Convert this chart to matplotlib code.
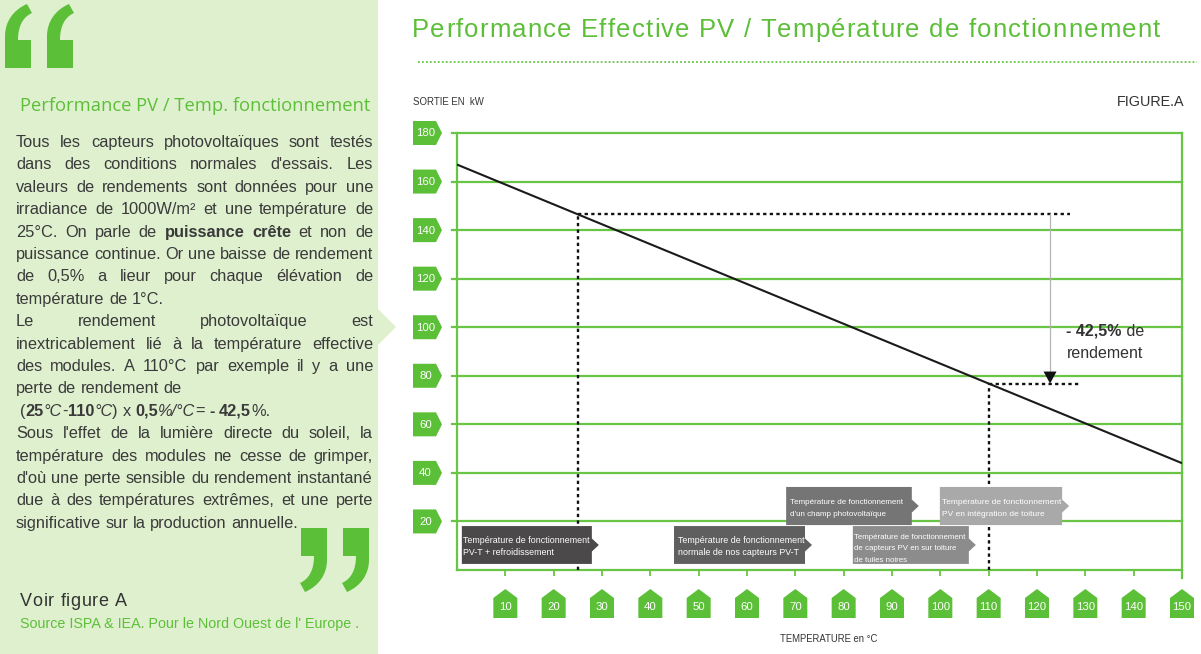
import numpy as np
import matplotlib
matplotlib.use('Agg')
import matplotlib.pyplot as plt
from matplotlib import font_manager
from matplotlib.font_manager import FontProperties
from matplotlib.patches import Polygon, Rectangle, PathPatch
from matplotlib.path import Path

# ---------------- data ----------------
temperature_c = [0, 150]
output_kw = [167, 44]
y_tick_values = [20, 40, 60, 80, 100, 120, 140, 160, 180]
x_tick_values = [10, 20, 30, 40, 50, 60, 70, 80, 90, 100, 110, 120, 130, 140, 150]
ref_temp = 25
hot_temp = 110
title = "Performance Effective PV / Température de fonctionnement"
y_label = "SORTIE EN  kW"
x_label = "TEMPERATURE en °C"
fig_tag = "FIGURE.A"
loss_bold = "- 42,5%"
loss_rest = " de"
loss_line2 = "rendement"
box_labels = [
    "Température de fonctionnement\nPV-T + refroidissement",
    "Température de fonctionnement\nnormale de nos capteurs PV-T",
    "Température de fonctionnement\nd'un champ photovoltaïque",
    "Température de fonctionnement\nde capteurs PV en sur toiture\nde tuiles noires",
    "Température de fonctionnement\nPV en intégration de toiture",
]
panel_heading = "Performance PV / Temp. fonctionnement"
panel_lines = [
    ("Tous les capteurs photovoltaïques sont testés", True),
    ("dans des conditions normales d'essais. Les", True),
    ("valeurs de rendements sont données pour une", True),
    ("irradiance de 1000W/m² et une température de", True),
    ("25°C. On parle de *puissance crête* et non de", True),
    ("puissance continue. Or une baisse de rendement", True),
    ("de 0,5% a lieur pour chaque élévation de", True),
    ("température de 1°C.", False),
    ("Le rendement photovoltaïque est", True),
    ("inextricablement lié à la température effective", True),
    ("des modules. A 110°C par exemple il y a une", True),
    ("perte de rendement de", False),
    ("(*25*_°C_-*110*_°C_) x *0,5*_%/°C_= *- 42,5*%.", False),
    ("Sous l'effet de la lumière directe du soleil, la", True),
    ("température des modules ne cesse de grimper,", True),
    ("d'où une perte sensible du rendement instantané", True),
    ("due à des températures extrêmes, et une perte", True),
    ("significative sur la production annuelle.", False),
]
panel_see = "Voir figure A"
panel_source = "Source ISPA & IEA. Pour le Nord Ouest de l' Europe ."

# ---------------- layout / style ----------------
W, H, DPI = 1201, 654, 100
GREEN = '#5cbf38'
GRID = '#68c545'
TEXT = '#3a3a3a'
PANEL = '#dff0cf'
BOX_COLORS = ['#4b494a', '#5f5f5f', '#757575', '#8c8c8c', '#a9a9a9']
# label boxes in (temperature, kW) space
BOX_SPANS = [((1.0, 27.9), (2.5, 18.1)), ((44.9, 72.0), (2.5, 18.1)),
             ((68.1, 94.1), (18.5, 34.2)), ((81.9, 105.9), (2.5, 18.1)),
             ((99.9, 125.2), (18.5, 34.2))]
BOX_TEXT_W = [125, 125, 112, 111, 118]
BOX_TEXT_DX = [1, 4, 4, 1, 2]

avail = {f.name for f in font_manager.fontManager.ttflist}
SANS = 'Liberation Sans' if 'Liberation Sans' in avail else 'DejaVu Sans'
NARROW = 'Liberation Sans Narrow' if 'Liberation Sans Narrow' in avail else SANS
HUMAN = 'Open Sans' if 'Open Sans' in avail else SANS

fig = plt.figure(figsize=(W / DPI, H / DPI), dpi=DPI)
fig.patch.set_facecolor('white')
renderer = fig.canvas.get_renderer()


def F(x, y):
    return (x / W, 1.0 - y / H)


def fp(family=SANS, size=10, weight='normal', style='normal'):
    return FontProperties(family=family, size=size, weight=weight, style=style)


def tw(s, prop):
    return renderer.get_text_width_height_descent(s, prop, ismath=False)[0]


def adv(s, prop):
    return tw('|' + s + '|', prop) - tw('||', prop)


def put(s, x, y, prop, color, ha='left', va='baseline', z=6):
    fig.text(x / W, 1 - y / H, s, fontproperties=prop, color=color,
             ha=ha, va=va, zorder=z)


def put_spaced(s, x, y, width, prop, color):
    advs = [adv(c, prop) for c in s]
    extra = (width - sum(advs)) / max(len(s) - 1, 1)
    cx = x
    for c, a in zip(s, advs):
        if c != ' ':
            put(c, cx, y, prop, color)
        cx += a + extra


def fit_size(s, width, family, base, weight='normal'):
    return base * width / tw(s, fp(family, base, weight))


def poly(pts, color, z=2):
    fig.add_artist(Polygon([F(*p) for p in pts], closed=True, transform=fig.transFigure,
                           facecolor=color, edgecolor='none', zorder=z))


# ---------------- left panel ----------------
fig.add_artist(Rectangle((0, 0), 378 / W, 1, transform=fig.transFigure,
                         facecolor=PANEL, edgecolor='none', zorder=0))
poly([(377, 308), (396, 327), (377, 346)], PANEL, z=0)


def quote(ox, oy, flip):
    spec = [((0, 64), Path.MOVETO), ((26, 64), Path.LINETO), ((26, 36), Path.LINETO),
            ((13, 36), Path.LINETO), ((13, 22), Path.CURVE4), ((18, 13), Path.CURVE4),
            ((27, 9), Path.CURVE4), ((22, 0), Path.LINETO), ((8, 6), Path.CURVE4),
            ((0, 18), Path.CURVE4), ((0, 32), Path.CURVE4), ((0, 64), Path.LINETO),
            ((0, 64), Path.CLOSEPOLY)]
    verts, codes = [], []
    for (x, y), c in spec:
        if flip:
            x, y = 27 - x, 64 - y
        verts.append(F(ox + x, oy + y))
        codes.append(c)
    fig.add_artist(PathPatch(Path(verts, codes), transform=fig.transFigure,
                             facecolor=GREEN, edgecolor='none', zorder=3))


quote(5, 4, False)
quote(47, 4, False)
quote(300, 528, True)
quote(342, 528, True)

# heading
hs = fit_size(panel_heading, 353, HUMAN, 14)
put(panel_heading, 20, 111, fp(HUMAN, hs), GREEN)


def parse(line):
    toks, bold, ital = [], False, False
    for word in line.split():
        segs, buf = [], ''
        for ch in word:
            if ch in '*_':
                if buf:
                    segs.append((buf, bold, ital))
                    buf = ''
                if ch == '*':
                    bold = not bold
                else:
                    ital = not ital
            else:
                buf += ch
        if buf:
            segs.append((buf, bold, ital))
        toks.append(segs)
    return toks


def bprop(size, b, i):
    return fp(NARROW, size, 'bold' if b else 'normal', 'italic' if i else 'normal')


BODY_X0, BODY_X1 = 16, 373
body_size = 13.0
nat = []
for line, _ in panel_lines:
    toks = parse(line)
    sp = adv(' ', bprop(body_size, False, False))
    w = sum(adv(t, bprop(body_size, b, i)) for tok in toks for t, b, i in tok) + sp * (len(toks) - 1)
    nat.append(w)
mx = max(nat)
if mx > (BODY_X1 - BODY_X0):
    body_size = body_size * (BODY_X1 - BODY_X0 - 2) / mx

for k, (line, just) in enumerate(panel_lines):
    toks = parse(line)
    y = 147 + k * 22.4
    x0 = BODY_X0 + (4 if line.startswith('(') else 0)
    widths = [sum(adv(t, bprop(body_size, b, i)) for t, b, i in tok) for tok in toks]
    if just and len(toks) > 1:
        gap = (BODY_X1 - x0 - sum(widths)) / (len(toks) - 1)
    else:
        gap = adv(' ', bprop(body_size, False, False))
    x = x0
    for tok, wd in zip(toks, widths):
        cx = x
        for t, b, i in tok:
            put(t, cx, y, bprop(body_size, b, i), TEXT)
            cx += adv(t, bprop(body_size, b, i))
        x += wd + gap

put_spaced(panel_see, 20, 606, 107, fp(SANS, 13), '#333333')
ss = fit_size(panel_source, 337, NARROW, 11)
put(panel_source, 20, 628, fp(NARROW, ss), GREEN)

# ---------------- right title ----------------
put_spaced(title, 412, 37, 748, fp(SANS, 18.5), GREEN)
fig.add_artist(plt.Line2D([418 / W, 1197 / W], [1 - 62 / H] * 2, transform=fig.transFigure,
                          color=GRID, lw=1.3, ls=(0, (1, 1.2))))

# ---------------- chart ----------------
AX_L, AX_R, AX_T, AX_B = 457, 1182, 133, 570
ax = fig.add_axes([AX_L / W, 1 - AX_B / H, (AX_R - AX_L) / W, (AX_B - AX_T) / H])
ax.set_xlim(0, 150)
ax.set_ylim(0, 180)
ax.patch.set_alpha(0)
for s in ax.spines.values():
    s.set_visible(False)
ax.set_yticks([])
ax.set_xticks(x_tick_values)
ax.set_xticklabels([])
ax.tick_params(axis='x', length=4, width=1.3, color=GRID, direction='out')

axw = AX_R - AX_L
axh = AX_B - AX_T
for v in y_tick_values:
    ax.axhline(v, xmin=-5 / axw, xmax=1, color=GRID, lw=1.6, clip_on=False, zorder=1)
ax.axhline(0, xmin=0, xmax=1, color=GRID, lw=1.6, clip_on=False, zorder=1)
ax.axvline(0, ymin=0, ymax=1, color=GRID, lw=1.6, clip_on=False, zorder=1)
ax.axvline(150, ymin=-8 / axh, ymax=1, color=GRID, lw=1.6, clip_on=False, zorder=1)


def D(xd, yd):
    p = ax.transData.transform((xd, yd))
    return p[0], H - p[1]


# y badges
for v in y_tick_values:
    _, py = D(0, v)
    poly([(413, py - 12), (436, py - 12), (442, py), (436, py + 12), (413, py + 12)], GREEN, z=3)
    put(str(v), 425.5, py + 0.5, fp(SANS, 8.2), 'white', ha='center', va='center')

# x badges
for v in x_tick_values:
    px, _ = D(v, 0)
    poly([(px - 12, 618), (px - 12, 598), (px, 589), (px + 12, 598), (px + 12, 618)], GREEN, z=3)
    put(str(v), px, 607, fp(SANS, 8.2), 'white', ha='center', va='center')

# main line
ax.plot(temperature_c, output_kw, color='#1a1a1a', lw=1.5, zorder=5, solid_capstyle='butt')
ref_out = float(np.interp(ref_temp, temperature_c, output_kw))
hot_out = float(np.interp(hot_temp, temperature_c, output_kw))
dash = dict(color='#111111', lw=1.7, ls=(0, (1.4, 1.4)), zorder=4, clip_on=False)
ax.plot([ref_temp, ref_temp], [0, ref_out], **dash)
ax.plot([ref_temp, 126.8], [ref_out, ref_out], **dash)
ax.plot([hot_temp, hot_temp], [0, hot_out], **dash)
ax.plot([hot_temp, 128.9], [hot_out, hot_out], **dash)

# loss arrow
arrow_x = 122.7
ax_px, ref_py = D(arrow_x, ref_out)
_, hot_py = D(arrow_x, hot_out)
fig.add_artist(plt.Line2D([ax_px / W] * 2, [1 - ref_py / H, 1 - (hot_py - 11) / H],
                          transform=fig.transFigure, color='#b5b5b5', lw=0.9, zorder=4))
poly([(ax_px - 6.5, hot_py - 12), (ax_px + 6.5, hot_py - 12), (ax_px, hot_py)], '#111111', z=6)

lp = fp(SANS, 11.5)
lpb = fp(SANS, 11.5, 'bold')
cx, _ = D(134.1, 0)
wb = adv(loss_bold, lpb)
wn = adv(loss_rest, lp)
x0 = cx - (wb + wn) / 2
put(loss_bold, x0, 336, lpb, '#333333')
put(loss_rest, x0 + wb, 336, lp, '#333333')
put(loss_line2, cx, 358, lp, '#333333', ha='center')

# label boxes
for lab, (xs, ys), col, tws, dx in zip(box_labels, BOX_SPANS, BOX_COLORS, BOX_TEXT_W, BOX_TEXT_DX):
    x0p, y0p = D(xs[0], ys[1])
    x1p, y1p = D(xs[1], ys[0])
    ym = (y0p + y1p) / 2
    poly([(x0p, y0p), (x1p, y0p), (x1p, ym - 6.5), (x1p + 7, ym), (x1p, ym + 6.5),
          (x1p, y1p), (x0p, y1p)], col, z=3)
    lines = lab.split('\n')
    bs = fit_size(lines[0], tws, NARROW, 7)
    step = 11.5
    n = len(lines)
    for j, ln in enumerate(lines):
        yy = ym + (j - (n - 1) / 2) * step + 4 + (1.5 if n == 3 else 0)
        put(ln, x0p + dx, yy, fp(NARROW, bs), '#ffffff', z=7)

# axis texts
ys_ = fit_size(y_label, 71, SANS, 6.5)
put(y_label, 413, 105, fp(SANS, ys_), '#333333')
fs_ = fit_size(fig_tag, 68, SANS, 10)
put(fig_tag, 1185, 106, fp(SANS, fs_), '#333333', ha='right')
xs_ = fit_size(x_label, 98, SANS, 7)
put(x_label, 780, 642, fp(SANS, xs_), '#333333')

fig.savefig('out.png', dpi=DPI, facecolor='white')
